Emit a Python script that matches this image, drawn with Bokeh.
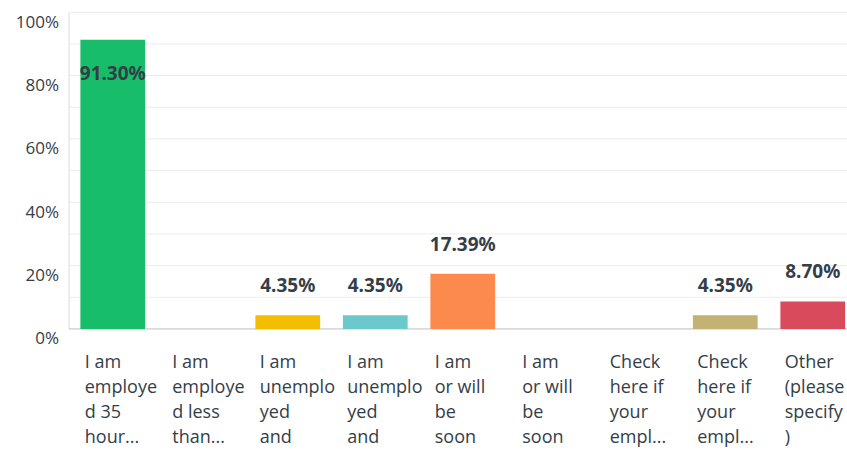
from bokeh.plotting import figure
from bokeh.models import ColumnDataSource, Range1d
from bokeh.core.properties import value
from bokeh.embed import file_html
from bokeh.resources import INLINE

categories = [
    "I am\nemploye\nd 35\nhour...",
    "I am\nemploye\nd less\nthan...",
    "I am\nunemplo\nyed\nand",
    "I am\nunemplo\nyed\nand",
    "I am\nor will\nbe\nsoon",
    "I am\nor will\nbe\nsoon",
    "Check\nhere if\nyour\nempl...",
    "Check\nhere if\nyour\nempl...",
    "Other\n(please\nspecify\n)",
]
values = [91.30, 0.0, 4.35, 4.35, 17.39, 0.0, 0.0, 4.35, 8.70]
colors = ["#17bd68", "#17bd68", "#f5bd00", "#6bc8cd", "#fd8a4d",
          "#fd8a4d", "#6bc8cd", "#c4b274", "#d94a5c"]
y_ticks = [0, 20, 40, 60, 80, 100]
y_tick_labels = ["0%", "20%", "40%", "60%", "80%", "100%"]
y_grid = [0, 10, 20, 30, 40, 50, 60, 70, 80, 90, 100]

n = len(categories)
step = 100
x_end = n * step
xs = [step * i + step / 2 for i in range(n)]
label_text = ["%.2f%%" % v if v > 0 else "" for v in values]
offsets = [33 if v > 85 else -30 for v in values]

src = ColumnDataSource(dict(x=xs, top=values, color=colors, lab=label_text, off=offsets))

# category label lines, one row per line
lx, lt, loff = [], [], []
for i, c in enumerate(categories):
    for k, line in enumerate(c.split("\n")):
        lx.append(step * i + 18)
        lt.append(line)
        loff.append(32 + 25 * k)
lsrc = ColumnDataSource(dict(x=lx, y=[0] * len(lx), t=lt, off=loff))

TXT = "#333e48"
FONT = "Open Sans"

p = figure(width=847, height=451, output_backend="svg", toolbar_location=None,
           x_range=Range1d(-78.3, 889.7), y_range=Range1d(-38.7, 103.7),
           min_border_left=0, min_border_right=0, min_border_top=0, min_border_bottom=0)
p.outline_line_color = None
p.background_fill_color = "white"
p.axis.visible = False
p.grid.visible = False

# grid lines
p.segment(x0=[0] * len(y_grid), x1=[x_end] * len(y_grid), y0=y_grid, y1=y_grid,
          line_color="#ececec", line_width=1)
# left axis line
p.segment(x0=[0], x1=[0], y0=[y_grid[0]], y1=[y_grid[-1]], line_color="#dcdcdc", line_width=1)
# baseline
p.segment(x0=[0], x1=[x_end], y0=[0], y1=[0], line_color="#c8c8c8", line_width=1)

# y tick labels
p.text(x=[0] * len(y_ticks), y=y_ticks, text=y_tick_labels, x_offset=-10, y_offset=9,
       text_align="right", text_baseline="middle",
       text_font=value(FONT), text_font_size="17px", text_color=TXT)

p.vbar(x="x", top="top", width=74, bottom=0, color="color", source=src, line_color=None)

p.text(x="x", y="top", text="lab", y_offset="off", source=src,
       text_align="center", text_baseline="middle",
       text_font=value("Noto Sans"), text_font_style="bold", text_font_size="19px",
       text_color=TXT)

p.text(x="x", y="y", text="t", y_offset="off", source=lsrc,
       text_align="left", text_baseline="middle",
       text_font=value(FONT), text_font_size="18px", text_color=TXT)

open("out.html", "w").write(file_html(p, INLINE))
